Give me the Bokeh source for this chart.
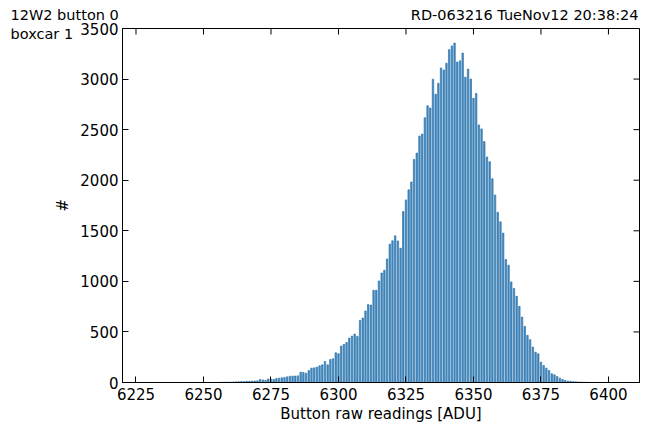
import math
from bokeh.plotting import figure
from bokeh.models import Range1d, FixedTicker, Label
from bokeh.layouts import column, row
from bokeh.embed import file_html
from bokeh.resources import INLINE

# Histogram data: bin values (ADU) and counts
adu = list(range(6256, 6394))
counts = [
    2, 3, 3, 4, 5, 5, 7, 8, 9, 10,            # 6256-6265
    12, 12, 14, 15, 17, 30, 25, 22, 35, 33,   # 6266-6275
    30, 40, 43, 46, 50, 56, 62, 63, 64, 66,   # 6276-6285
    102, 99, 92, 119, 142, 145, 152, 165, 175, 208,   # 6286-6295
    175, 228, 235, 294, 284, 360, 377, 396, 439, 459,  # 6296-6305
    479, 456, 614, 638, 707, 770, 766, 912, 912, 1004,  # 6306-6315
    1083, 1110, 1222, 1368, 1401, 1450, 1400, 1328, 1690, 1805,  # 6316-6325
    1905, 1983, 2205, 2268, 2437, 2456, 2618, 2736, 2714, 2998,  # 6326-6335
    2850, 2958, 3110, 3090, 3156, 3291, 3328, 3356, 3168, 3181,  # 6336-6345
    3257, 3019, 3099, 3000, 2811, 2858, 2547, 2507, 2382, 2230,  # 6346-6355
    2183, 2015, 1853, 1683, 1589, 1477, 1216, 1160, 994, 929,    # 6356-6365
    852, 753, 647, 555, 466, 423, 350, 300, 284, 201,            # 6366-6375
    168, 142, 119, 86, 76, 59, 43, 30, 20, 15,                   # 6376-6385
    12, 9, 7, 5, 4, 3, 2, 1,                                     # 6386-6393
]
x_ticks = [6225, 6250, 6275, 6300, 6325, 6350, 6375, 6400]
y_ticks = [0, 500, 1000, 1500, 2000, 2500, 3000, 3500]
title_left_1 = "12W2 button 0"
title_left_2 = "boxcar 1"
title_right = "RD-063216 TueNov12 20:38:24"
x_label = "Button raw readings [ADU]"
y_label = "#"

FONT = "DejaVu Sans"
HDR = "14.5px"
W, H = 647, 427
HDR_H = 22      # header strip height
LEFT_W = 75     # left strip width
TOP_B = 28 - HDR_H   # border above the plot frame inside the lower row
BOT_B = 45           # border below the plot frame


def blank(width, height, top=0, bottom=0, y_range=None):
    f = figure(width=width, height=height, output_backend="svg", toolbar_location=None,
               x_range=Range1d(0, width), y_range=y_range or Range1d(0, height),
               x_axis_location=None, y_axis_location=None, min_border=0,
               min_border_left=0, min_border_right=0, min_border_top=top,
               min_border_bottom=bottom)
    f.title.visible = False
    f.outline_line_color = None
    f.background_fill_color = "white"
    f.border_fill_color = "white"
    f.grid.visible = False
    return f


# header strip: run info on one line (y measured upward from strip bottom)
header = blank(W, HDR_H)
header.add_layout(Label(x=10, y=HDR_H - 14.6, text=title_left_1, text_font=FONT,
                        text_font_size=HDR, text_baseline="middle", text_align="left",
                        text_color="black"))
header.add_layout(Label(x=638, y=HDR_H - 14.6, text=title_right, text_font=FONT,
                        text_font_size=HDR, text_baseline="middle", text_align="right",
                        text_color="black"))

# left strip: frame aligned with the plot frame; y = page height - pixel row
LH = H - HDR_H
left = blank(LEFT_W, LH, top=TOP_B, bottom=BOT_B,
             y_range=Range1d(BOT_B, H - HDR_H - TOP_B))
left.add_layout(Label(x=10, y=H - 33, text=title_left_2, text_font=FONT,
                      text_font_size=HDR, text_baseline="middle", text_align="left",
                      text_color="black"))
left.add_layout(Label(x=62, y=H - 205, text=y_label, text_font=FONT, text_font_size="15px",
                      text_baseline="middle", text_align="center",
                      angle=math.pi / 2, text_color="black"))

# main histogram
p = figure(width=W - LEFT_W, height=LH, output_backend="svg", toolbar_location=None,
           x_range=Range1d(6220, 6411.5), y_range=Range1d(0, 3500),
           min_border_left=122 - LEFT_W, min_border_right=8, min_border_top=TOP_B,
           min_border_bottom=BOT_B)
p.title.visible = False
p.background_fill_color = "white"
p.border_fill_color = "white"
p.outline_line_color = "black"
p.outline_line_width = 1
p.xgrid.visible = False
p.ygrid.visible = False

p.vbar(x=adu, top=counts, width=0.55, bottom=0,
       fill_color="#4a8ec6", line_color="#1f69a3", line_width=0.6)

for ax in (p.xaxis[0], p.yaxis[0]):
    ax.major_tick_in = 6
    ax.major_tick_out = 0
    ax.minor_tick_in = 0
    ax.minor_tick_out = 0
    ax.axis_line_color = "black"
    ax.major_tick_line_color = "black"
    ax.major_label_text_font = FONT
    ax.major_label_text_font_size = "15px"
    ax.major_label_text_color = "black"
    ax.axis_label_text_font = FONT
    ax.axis_label_text_font_size = "15px"
    ax.axis_label_text_font_style = "normal"
    ax.axis_label_text_color = "black"

p.xaxis[0].ticker = FixedTicker(ticks=x_ticks)
p.yaxis[0].ticker = FixedTicker(ticks=y_ticks)
p.xaxis[0].axis_label = x_label
p.xaxis[0].major_label_standoff = 5
p.xaxis[0].axis_label_standoff = 2
p.yaxis[0].major_label_standoff = 4

# mirrored inward ticks on the top and right edges of the frame
x_end = p.x_range.end
y_end = p.y_range.end
p.scatter(x=x_ticks, y=[y_end] * len(x_ticks), marker="dash", angle=math.pi / 2,
          size=12, line_color="black", line_width=1)
p.scatter(x=[x_end] * len(y_ticks), y=y_ticks, marker="dash",
          size=12, line_color="black", line_width=1)

layout = column(header, row(left, p, spacing=0), spacing=0)
open("out.html", "w").write(file_html(layout, INLINE))
